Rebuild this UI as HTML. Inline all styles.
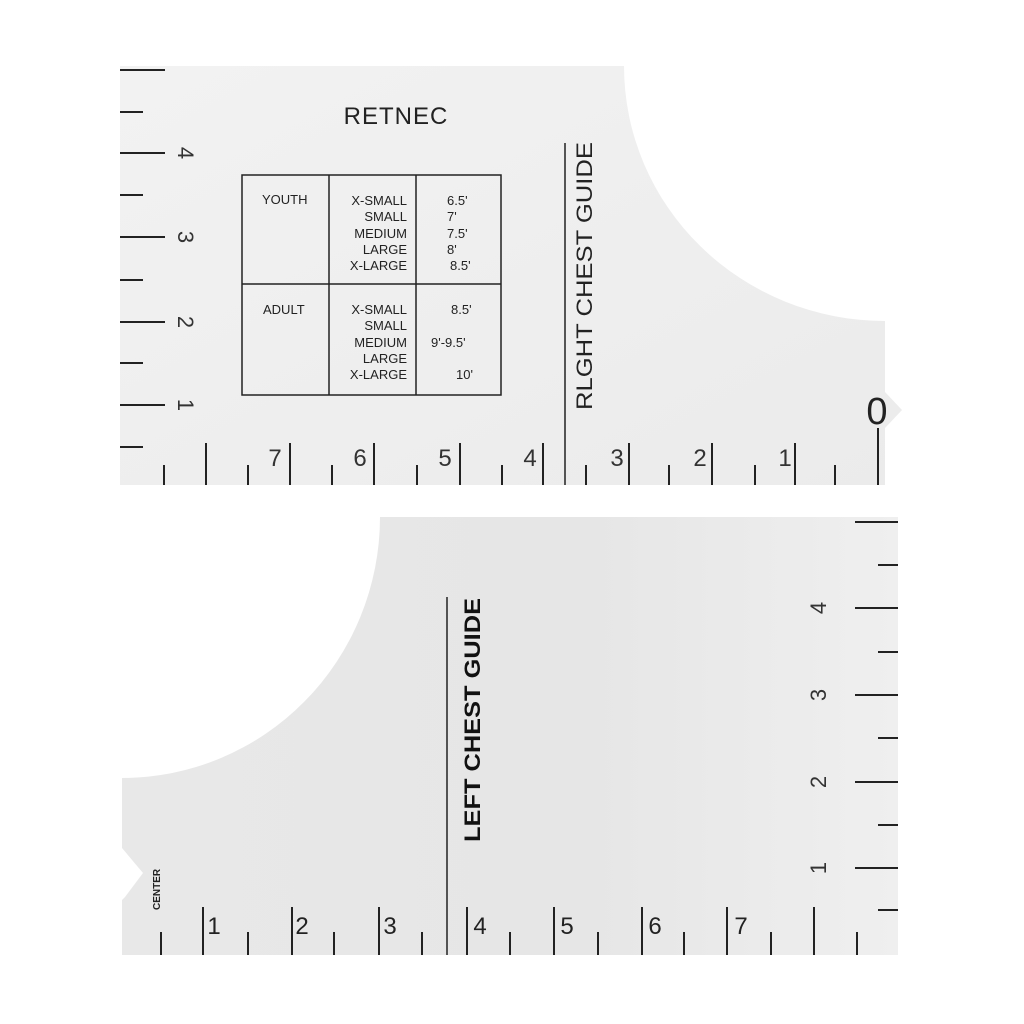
<!DOCTYPE html>
<html><head><style>html,body{margin:0;padding:0;background:#fff}svg{display:block}</style></head>
<body>
<svg width="1024" height="1024" viewBox="0 0 1024 1024" xmlns="http://www.w3.org/2000/svg" font-family="Liberation Sans, Arial, sans-serif">
<defs>
<linearGradient id="g1" x1="0" y1="0" x2="1" y2="1"><stop offset="0" stop-color="#f2f2f2"/><stop offset="1" stop-color="#ebebeb"/></linearGradient>
<linearGradient id="g2" x1="0" y1="0" x2="1" y2="0"><stop offset="0" stop-color="#e8e8e8"/><stop offset="0.6" stop-color="#e6e6e6"/><stop offset="1" stop-color="#efefef"/></linearGradient>
</defs>
<rect width="1024" height="1024" fill="#fff"/>
<!-- top piece -->
<path d="M120,66 L624,66 A261,255 0 0 0 885,321 L885,392 L902,410 L885,428 L885,485 L120,485 Z" fill="url(#g1)"/>
<g stroke="#222" stroke-width="2">
<line x1="120" y1="70" x2="165" y2="70"/><line x1="120" y1="112" x2="143" y2="112"/>
<line x1="120" y1="153" x2="165" y2="153"/><line x1="120" y1="195" x2="143" y2="195"/>
<line x1="120" y1="237" x2="165" y2="237"/><line x1="120" y1="280" x2="143" y2="280"/>
<line x1="120" y1="322" x2="165" y2="322"/><line x1="120" y1="363" x2="143" y2="363"/>
<line x1="120" y1="405" x2="165" y2="405"/><line x1="120" y1="447" x2="143" y2="447"/>
<line x1="164" y1="465" x2="164" y2="485"/><line x1="206" y1="443" x2="206" y2="485"/>
<line x1="248" y1="465" x2="248" y2="485"/><line x1="290" y1="443" x2="290" y2="485"/>
<line x1="332" y1="465" x2="332" y2="485"/><line x1="374" y1="443" x2="374" y2="485"/>
<line x1="417" y1="465" x2="417" y2="485"/><line x1="460" y1="443" x2="460" y2="485"/>
<line x1="502" y1="465" x2="502" y2="485"/><line x1="543" y1="443" x2="543" y2="485"/>
<line x1="586" y1="465" x2="586" y2="485"/><line x1="629" y1="443" x2="629" y2="485"/>
<line x1="669" y1="465" x2="669" y2="485"/><line x1="712" y1="443" x2="712" y2="485"/>
<line x1="755" y1="465" x2="755" y2="485"/><line x1="795" y1="443" x2="795" y2="485"/>
<line x1="835" y1="465" x2="835" y2="485"/><line x1="878" y1="428" x2="878" y2="485"/>
</g>
<line x1="565" y1="143" x2="565" y2="485" stroke="#222" stroke-width="1.5"/>
<g font-size="22" fill="#333">
<text transform="translate(178,153) rotate(90)" text-anchor="middle">4</text>
<text transform="translate(178,237) rotate(90)" text-anchor="middle">3</text>
<text transform="translate(178,322) rotate(90)" text-anchor="middle">2</text>
<text transform="translate(178,405) rotate(90)" text-anchor="middle">1</text>
</g>
<g font-size="24" fill="#333" text-anchor="middle">
<text x="275" y="466">7</text><text x="360" y="466">6</text><text x="445" y="466">5</text><text x="530" y="466">4</text>
<text x="617" y="466">3</text><text x="700" y="466">2</text><text x="785" y="466">1</text>
</g>
<text x="877" y="424" font-size="38" text-anchor="middle" fill="#222">0</text>
<text x="396" y="124" font-size="24" text-anchor="middle" fill="#222" letter-spacing="1">RETNEC</text>
<text transform="translate(592,410) rotate(-90)" font-size="22" fill="#222" textLength="268" lengthAdjust="spacingAndGlyphs">RLGHT CHEST GUIDE</text>
<g stroke="#222" stroke-width="1.5" fill="none">
<rect x="242" y="175" width="259" height="220"/>
<line x1="329" y1="175" x2="329" y2="395"/><line x1="416" y1="175" x2="416" y2="395"/>
<line x1="242" y1="284" x2="501" y2="284"/>
</g>
<g font-size="13" fill="#222">
<text x="262" y="204">YOUTH</text><text x="263" y="314">ADULT</text>
<g text-anchor="end">
<text x="407" y="205">X-SMALL</text><text x="407" y="221">SMALL</text><text x="407" y="238">MEDIUM</text><text x="407" y="254">LARGE</text><text x="407" y="270">X-LARGE</text>
<text x="407" y="314">X-SMALL</text><text x="407" y="330">SMALL</text><text x="407" y="347">MEDIUM</text><text x="407" y="363">LARGE</text><text x="407" y="379">X-LARGE</text>
</g>
<text x="447" y="205">6.5'</text><text x="447" y="221">7'</text><text x="447" y="238">7.5'</text><text x="447" y="254">8'</text><text x="450" y="270">8.5'</text>
<text x="451" y="314">8.5'</text><text x="431" y="347">9'-9.5'</text><text x="456" y="379">10'</text>
</g>
<!-- bottom piece -->
<path d="M380,517 L898,517 L898,955 L122,955 L122,900 L125,897 L143,873 L122,848 L122,778 A258,261 0 0 0 380,517 Z" fill="url(#g2)"/>
<g stroke="#222" stroke-width="2">
<line x1="161" y1="932" x2="161" y2="955"/><line x1="203" y1="907" x2="203" y2="955"/>
<line x1="248" y1="932" x2="248" y2="955"/><line x1="292" y1="907" x2="292" y2="955"/>
<line x1="334" y1="932" x2="334" y2="955"/><line x1="379" y1="907" x2="379" y2="955"/>
<line x1="422" y1="932" x2="422" y2="955"/><line x1="467" y1="907" x2="467" y2="955"/>
<line x1="510" y1="932" x2="510" y2="955"/><line x1="554" y1="907" x2="554" y2="955"/>
<line x1="598" y1="932" x2="598" y2="955"/><line x1="642" y1="907" x2="642" y2="955"/>
<line x1="684" y1="932" x2="684" y2="955"/><line x1="727" y1="907" x2="727" y2="955"/>
<line x1="771" y1="932" x2="771" y2="955"/><line x1="814" y1="907" x2="814" y2="955"/>
<line x1="857" y1="932" x2="857" y2="955"/>
<line x1="855" y1="522" x2="898" y2="522"/><line x1="878" y1="565" x2="898" y2="565"/>
<line x1="855" y1="608" x2="898" y2="608"/><line x1="878" y1="652" x2="898" y2="652"/>
<line x1="855" y1="695" x2="898" y2="695"/><line x1="878" y1="738" x2="898" y2="738"/>
<line x1="855" y1="782" x2="898" y2="782"/><line x1="878" y1="825" x2="898" y2="825"/>
<line x1="855" y1="868" x2="898" y2="868"/><line x1="878" y1="910" x2="898" y2="910"/>
</g>
<line x1="447" y1="597" x2="447" y2="955" stroke="#222" stroke-width="1.5"/>
<text transform="translate(480,842) rotate(-90)" font-size="22" font-weight="bold" fill="#111" textLength="244" lengthAdjust="spacingAndGlyphs">LEFT  CHEST  GUIDE</text>
<text transform="translate(160,910) rotate(-90)" font-size="10" font-weight="bold" fill="#222">CENTER</text>
<g font-size="24" fill="#222" text-anchor="middle">
<text x="214" y="934">1</text><text x="302" y="934">2</text><text x="390" y="934">3</text><text x="480" y="934">4</text>
<text x="567" y="934">5</text><text x="655" y="934">6</text><text x="741" y="934">7</text>
</g>
<g font-size="22" fill="#333">
<text transform="translate(826,608) rotate(-90)" text-anchor="middle">4</text>
<text transform="translate(826,695) rotate(-90)" text-anchor="middle">3</text>
<text transform="translate(826,782) rotate(-90)" text-anchor="middle">2</text>
<text transform="translate(826,868) rotate(-90)" text-anchor="middle">1</text>
</g>
</svg>
</body></html>
